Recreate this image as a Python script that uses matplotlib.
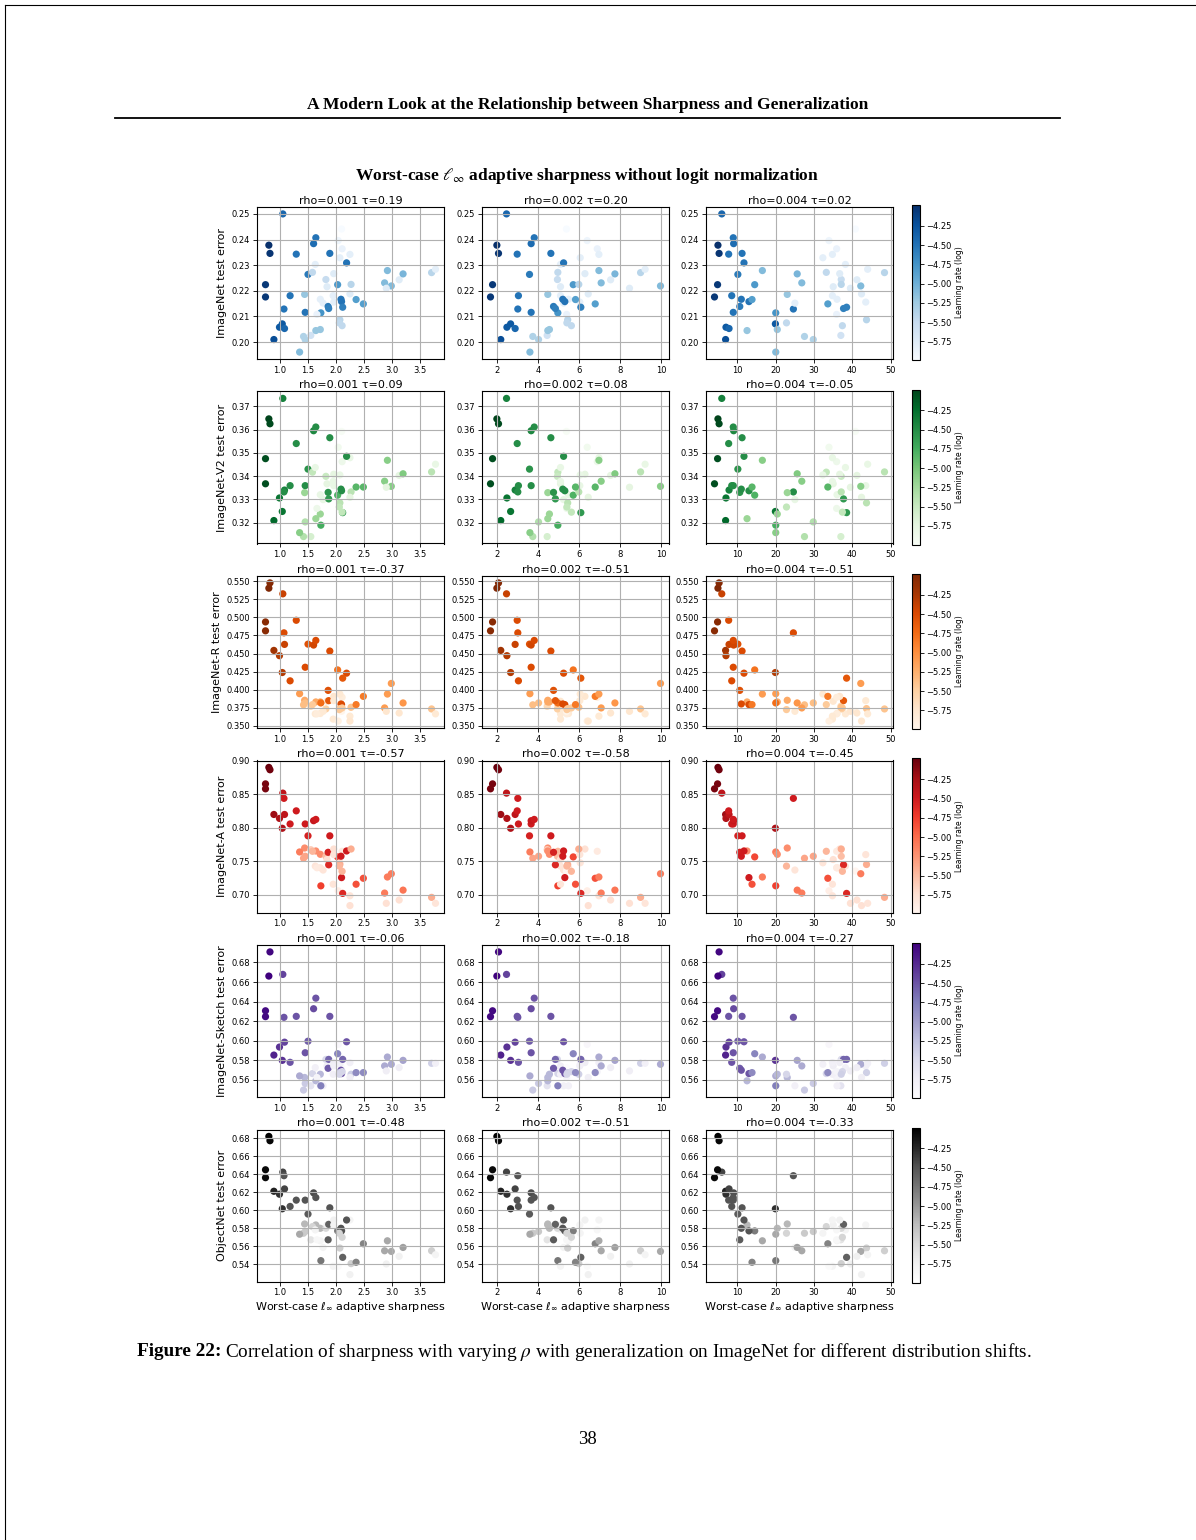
import matplotlib
matplotlib.use("Agg")
import matplotlib.pyplot as plt
import numpy as np
from matplotlib.ticker import MultipleLocator
from matplotlib.lines import Line2D

# ---- per-model measurements (one entry per trained model) ----
sharp_rho001 = [1.05, 0.80, 0.82, 0.74, 0.74, 0.89, 0.99, 1.04, 1.08, 1.07,
                1.18, 1.29, 1.50, 1.45, 1.44, 1.42, 1.45, 1.35, 1.55, 1.64,
                1.72, 1.60, 1.64, 1.58, 1.63, 1.89, 1.82, 1.84, 1.72, 1.77,
                1.73, 1.66, 1.86, 1.87, 1.96, 2.03, 1.95, 1.96, 2.04, 2.10,
                2.11, 2.07, 2.25, 2.19, 2.09, 2.10, 2.12, 2.07, 2.06, 2.11,
                2.27, 2.25, 2.36, 2.49, 2.87, 2.92, 2.99, 2.90, 3.13, 3.20,
                3.71, 3.78]
sharp_rho002 = [2.47, 2.00, 2.08, 1.79, 1.69, 2.19, 2.49, 2.67, 2.89, 3.02,
                3.05, 2.99, 3.59, 3.67, 4.48, 3.75, 4.03, 3.61, 4.45, 4.48,
                4.56, 3.67, 3.82, 4.97, 5.10, 4.63, 4.95, 5.10, 5.49, 5.25,
                4.97, 5.40, 4.76, 4.85, 6.29, 5.72, 5.10, 6.04, 6.40, 5.39,
                6.89, 6.06, 6.97, 5.25, 5.21, 5.31, 6.09, 5.45, 5.41, 5.63,
                5.99, 6.45, 5.83, 6.79, 7.08, 6.97, 9.97, 8.46, 7.54, 7.75,
                9.00, 9.22]
sharp_rho004 = [5.9, 4.9, 5.2, 4.8, 4.0, 6.9, 7.0, 19.9, 7.8, 24.6,
                8.5, 7.7, 10.1, 8.9, 23.0, 27.5, 29.8, 20.0, 37.0, 12.5,
                20.4, 9.0, 8.9, 33.2, 38.2, 11.2, 37.1, 35.0, 36.0, 25.0,
                20.0, 35.9, 10.6, 37.7, 36.7, 14.5, 34.8, 43.5, 33.9, 40.8,
                35.9, 32.3, 34.8, 11.7, 11.0, 13.0, 38.5, 43.7, 22.8, 37.4,
                37.1, 42.4, 13.8, 33.6, 26.8, 16.5, 42.2, 39.5, 41.2, 25.6,
                48.4, 44.0]
log_lr = [-4.40, -3.98, -4.02, -4.05, -4.05, -4.20, -4.30, -4.30, -4.40, -4.50,
          -4.50, -4.50, -4.55, -4.50, -5.20, -5.35, -5.35, -5.10, -5.60, -5.20,
          -5.20, -4.45, -4.50, -5.45, -5.80, -4.50, -5.50, -5.75, -5.80, -5.80,
          -4.75, -5.85, -4.55, -4.60, -5.75, -4.80, -5.80, -5.80, -5.90, -5.99,
          -5.85, -5.80, -5.80, -4.50, -4.50, -4.50, -4.60, -5.40, -5.45, -5.45,
          -5.40, -5.75, -4.85, -4.85, -5.10, -5.10, -5.10, -5.75, -5.75, -5.05,
          -5.40, -5.80]
err_imagenet = [0.2500, 0.2378, 0.2346, 0.2224, 0.2176, 0.2010, 0.2058, 0.2071, 0.2053, 0.2129,
                0.2181, 0.2343, 0.2264, 0.2116, 0.2186, 0.2022, 0.2010, 0.1961, 0.2026, 0.2045,
                0.2049, 0.2384, 0.2407, 0.2272, 0.2303, 0.2346, 0.2244, 0.2216, 0.2167, 0.2152,
                0.2114, 0.2108, 0.2139, 0.2131, 0.2267, 0.2224, 0.2181, 0.2156, 0.2396, 0.2441,
                0.2364, 0.2329, 0.2342, 0.2309, 0.2167, 0.2158, 0.2136, 0.2087, 0.2075, 0.2064,
                0.2225, 0.2188, 0.2166, 0.2149, 0.2231, 0.2279, 0.2219, 0.2210, 0.2243, 0.2266,
                0.2271, 0.2284]
err_v2 = [0.3734, 0.3646, 0.3625, 0.3475, 0.3367, 0.3209, 0.3306, 0.3248, 0.3340, 0.3332,
          0.3359, 0.3540, 0.3430, 0.3359, 0.3329, 0.3140, 0.3203, 0.3157, 0.3140, 0.3217,
          0.3237, 0.3595, 0.3611, 0.3417, 0.3437, 0.3565, 0.3399, 0.3367, 0.3320, 0.3299,
          0.3189, 0.3261, 0.3330, 0.3302, 0.3408, 0.3318, 0.3377, 0.3359, 0.3524, 0.3592,
          0.3462, 0.3405, 0.3479, 0.3485, 0.3344, 0.3337, 0.3243, 0.3285, 0.3267, 0.3245,
          0.3332, 0.3309, 0.3353, 0.3353, 0.3378, 0.3468, 0.3356, 0.3352, 0.3403, 0.3410,
          0.3418, 0.3451]
err_r = [0.5326, 0.5404, 0.5477, 0.4937, 0.4814, 0.4543, 0.4470, 0.4237, 0.4626, 0.4786,
         0.4122, 0.4960, 0.4630, 0.4310, 0.3853, 0.3790, 0.3816, 0.3944, 0.3770, 0.3830,
         0.3830, 0.4617, 0.4681, 0.3793, 0.3665, 0.4534, 0.3733, 0.3839, 0.3670, 0.3700,
         0.3816, 0.3665, 0.3990, 0.3848, 0.3907, 0.4273, 0.3592, 0.3848, 0.3565, 0.3700,
         0.3894, 0.3940, 0.3633, 0.4228, 0.3802, 0.3793, 0.4159, 0.3738, 0.3724, 0.3747,
         0.3756, 0.3565, 0.3793, 0.3907, 0.3747, 0.3939, 0.4086, 0.3700, 0.3677, 0.3816,
         0.3733, 0.3665]
err_a = [0.8518, 0.8902, 0.8867, 0.8656, 0.8582, 0.8199, 0.8140, 0.7993, 0.8199, 0.8440,
         0.8057, 0.8253, 0.7880, 0.8057, 0.7698, 0.7545, 0.7575, 0.7639, 0.7673, 0.7654,
         0.7604, 0.8106, 0.8125, 0.7649, 0.7428, 0.7880, 0.7575, 0.7526, 0.7403, 0.7369,
         0.7133, 0.7403, 0.7634, 0.7447, 0.7683, 0.7565, 0.7157, 0.7600, 0.7059, 0.7354,
         0.7649, 0.7477, 0.6985, 0.7654, 0.7575, 0.7256, 0.7020, 0.7452, 0.7428, 0.7350,
         0.7683, 0.6838, 0.7157, 0.7246, 0.7025, 0.7265, 0.7314, 0.6872, 0.6921, 0.7069,
         0.6961, 0.6872]
err_sketch = [0.6678, 0.6661, 0.6908, 0.6306, 0.6246, 0.5853, 0.5935, 0.5799, 0.5985, 0.6239,
              0.5779, 0.6249, 0.5995, 0.5877, 0.5624, 0.5495, 0.5563, 0.5640, 0.5539, 0.5590,
              0.5657, 0.6327, 0.6435, 0.5664, 0.5725, 0.6249, 0.5809, 0.5742, 0.5539, 0.5539,
              0.5539, 0.5624, 0.5718, 0.5809, 0.5776, 0.5867, 0.5657, 0.5742, 0.5962, 0.5725,
              0.5684, 0.5759, 0.5776, 0.5989, 0.5698, 0.5664, 0.5809, 0.5674, 0.5657, 0.5684,
              0.5657, 0.5624, 0.5674, 0.5674, 0.5742, 0.5833, 0.5759, 0.5691, 0.5725, 0.5799,
              0.5769, 0.5769]
err_objectnet = [0.6425, 0.6822, 0.6774, 0.6451, 0.6363, 0.6212, 0.6179, 0.6017, 0.6238, 0.6385,
                 0.6043, 0.6113, 0.5958, 0.6113, 0.5848, 0.5745, 0.5764, 0.5734, 0.5672, 0.5837,
                 0.5800, 0.6194, 0.6142, 0.5819, 0.5782, 0.6028, 0.5800, 0.5837, 0.5661, 0.5587,
                 0.5440, 0.5672, 0.5672, 0.5844, 0.5892, 0.5771, 0.5378, 0.5837, 0.5378, 0.5881,
                 0.5782, 0.5745, 0.5892, 0.5892, 0.5800, 0.5771, 0.5477, 0.5580, 0.5745, 0.5700,
                 0.5407, 0.5285, 0.5422, 0.5628, 0.5550, 0.5661, 0.5543, 0.5403, 0.5488, 0.5587,
                 0.5550, 0.5506]

rho_labels = ["0.001", "0.002", "0.004"]
dataset_names = ["ImageNet", "ImageNet-V2", "ImageNet-R", "ImageNet-A",
                 "ImageNet-Sketch", "ObjectNet"]
kendall_tau = [["0.19", "0.20", "0.02"],
               ["0.09", "0.08", "-0.05"],
               ["-0.37", "-0.51", "-0.51"],
               ["-0.57", "-0.58", "-0.45"],
               ["-0.06", "-0.18", "-0.27"],
               ["-0.48", "-0.51", "-0.33"]]

sharpness = [sharp_rho001, sharp_rho002, sharp_rho004]
errors = [err_imagenet, err_v2, err_r, err_a, err_sketch, err_objectnet]
cmaps = ["Blues", "Greens", "Oranges", "Reds", "Purples", "Greys"]
ytick_steps = [0.01, 0.01, 0.025, 0.05, 0.02, 0.02]
xtick_steps = [0.5, 2, 10]

# ---- page geometry (pixels) ----
W, H = 1196, 1540
fig = plt.figure(figsize=(W / 100, H / 100), dpi=100)


def box(x0, y0, w, h):
    return [x0 / W, 1 - (y0 + h) / H, w / W, h / H]


def fx(x):
    return x / W


def fy(y):
    return 1 - y / H


# page frame (top and left edge)
fig.add_artist(Line2D([fx(5), fx(5)], [fy(5), 0], color="black", lw=0.8))
fig.add_artist(Line2D([fx(5), 1], [fy(5), fy(5)], color="black", lw=0.8))

serif = "Liberation Serif"
fig.text(fx(587.5), fy(105), "A Modern Look at the Relationship between Sharpness and Generalization",
         ha="center", va="center", family=serif, weight="bold", fontsize=12.6)
fig.add_artist(Line2D([fx(115), fx(1060)], [fy(118), fy(118)], color="black", lw=1.3))

fig.text(fx(587.5), fy(176), r"Worst-case $\ell_\infty$ adaptive sharpness without logit normalization",
         ha="center", va="center", family=serif, weight="bold", fontsize=12.5,
         math_fontfamily="stix")

col_left = [257, 482, 706]
row_top = [207, 391.5, 576, 760.5, 945, 1129.5]
ax_w, ax_h = 187, 152

vmin, vmax = min(log_lr), max(log_lr)

for r in range(6):
    sc = None
    for c in range(3):
        ax = fig.add_axes(box(col_left[c], row_top[r], ax_w, ax_h))
        sc = ax.scatter(sharpness[c], errors[r], c=log_lr, cmap=cmaps[r],
                        vmin=vmin, vmax=vmax, s=27, linewidths=0)
        ax.grid(True, color="#b0b0b0", lw=0.8)
        ax.xaxis.set_major_locator(MultipleLocator(xtick_steps[c]))
        ax.yaxis.set_major_locator(MultipleLocator(ytick_steps[r]))
        ax.tick_params(labelsize=6, length=3, width=0.6, pad=2)
        for sp in ax.spines.values():
            sp.set_linewidth(0.8)
        ax.set_title(f"rho={rho_labels[c]} \u03c4={kendall_tau[r][c]}", fontsize=8, pad=2.5)
        if c == 0:
            ax.set_ylabel(f"{dataset_names[r]} test error", fontsize=8, labelpad=3)
        if r == 5:
            ax.set_xlabel(r"Worst-case $\ell_\infty$ adaptive sharpness", fontsize=8, labelpad=2)
    cax = fig.add_axes(box(912, row_top[r] - 2, 8, ax_h + 3))
    cb = fig.colorbar(sc, cax=cax)
    cb.set_ticks(np.arange(-5.75, -4.0, 0.25))
    cb.ax.tick_params(labelsize=6, length=3, width=0.6, pad=1.5)
    cb.outline.set_linewidth(0.8)
    cb.set_label("Learning rate (log)", fontsize=5.5, labelpad=2)

# caption
cap_y = fy(1352)
t1 = fig.text(fx(137), cap_y, "Figure 22:", ha="left", va="center", family=serif,
              weight="bold", fontsize=13.9)
renderer = fig.canvas.get_renderer()
bb = t1.get_window_extent(renderer)
fig.text(bb.x1 / W + 4 / W, cap_y,
         r"Correlation of sharpness with varying $\rho$ with generalization on ImageNet for different distribution shifts.",
         ha="left", va="center", family=serif, fontsize=13.9, math_fontfamily="stix")

fig.text(fx(587), fy(1439), "38", ha="center", va="center", family=serif, fontsize=13.5)

fig.savefig("out.png", dpi=100, facecolor="white")
